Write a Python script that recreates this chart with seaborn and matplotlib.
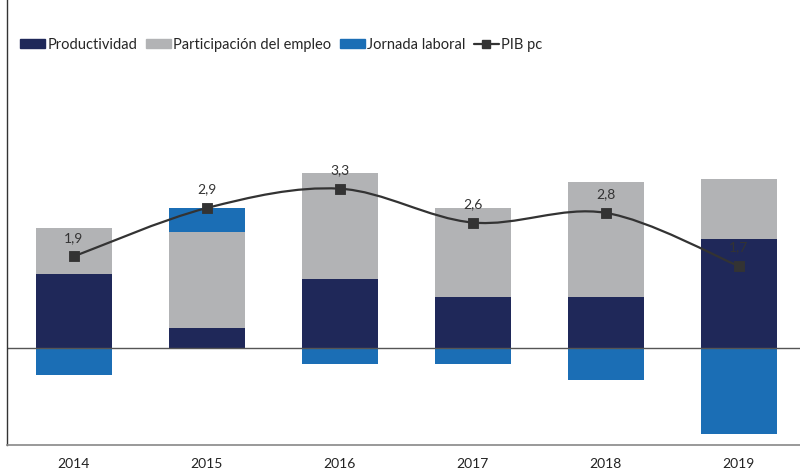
import numpy as np
import pandas as pd
import seaborn as sns
import matplotlib.pyplot as plt
from matplotlib.path import Path
from matplotlib.patches import PathPatch, Patch
from matplotlib.lines import Line2D

years = ["2014", "2015", "2016", "2017", "2018", "2019"]
productividad = [1.53, 0.43, 1.44, 1.07, 1.07, 2.25]
participacion = [0.95, 1.98, 2.19, 1.84, 2.36, 1.26]
jornada = [-0.56, 0.49, -0.33, -0.33, -0.66, -1.77]
pib_pc = [1.9, 2.9, 3.3, 2.6, 2.8, 1.7]
pib_labels = ["1,9", "2,9", "3,3", "2,6", "2,8", "1,7"]

c_prod = "#1F2859"
c_part = "#B2B3B5"
c_jorn = "#1B6EB5"
c_line = "#333333"

sns.set_style("white")
plt.rcParams['font.family'] = ['Lato', 'DejaVu Sans']

df = pd.DataFrame({"year": years, "prod": productividad, "part": participacion,
                   "jorn": jornada, "pib": pib_pc})
df["part_bottom"] = df["prod"]
df["jorn_bottom"] = np.where(df["jorn"] > 0, df["prod"] + df["part"], 0)

fig = plt.figure(figsize=(8, 4.73), dpi=100)
ax = fig.add_axes([0.009, 0.059, 0.991, 0.941])

w = 0.57
sns.barplot(data=df, x="year", y="prod", color=c_prod, width=w, saturation=1,
            linewidth=0, ax=ax)
ax.bar(range(len(years)), df["part"], bottom=df["part_bottom"], width=w, color=c_part, linewidth=0)
ax.bar(range(len(years)), df["jorn"], bottom=df["jorn_bottom"], width=w, color=c_jorn, linewidth=0)

# smoothed line (Catmull-Rom -> cubic Bezier, like spreadsheet smoothing)
x = np.arange(len(years), dtype=float)
y = np.array(pib_pc)
verts = [(x[0], y[0])]
codes = [Path.MOVETO]
for i in range(len(x) - 1):
    p0 = (x[max(i - 1, 0)], y[max(i - 1, 0)])
    p1 = (x[i], y[i])
    p2 = (x[i + 1], y[i + 1])
    p3 = (x[min(i + 2, len(x) - 1)], y[min(i + 2, len(x) - 1)])
    c1 = (p1[0] + (p2[0] - p0[0]) / 6, p1[1] + (p2[1] - p0[1]) / 6)
    c2 = (p2[0] - (p3[0] - p1[0]) / 6, p2[1] - (p3[1] - p1[1]) / 6)
    verts += [c1, c2, p2]
    codes += [Path.CURVE4] * 3
ax.add_patch(PathPatch(Path(verts, codes), fill=False, edgecolor=c_line, lw=1.6, zorder=4))
sns.scatterplot(x=x, y=y, marker="s", s=60, color=c_line, edgecolor=c_line, zorder=5, ax=ax)

for xi, yi, lab in zip(x, y, pib_labels):
    ax.annotate(lab, (xi, yi), xytext=(0, 9), textcoords="offset points", ha="center",
                va="bottom", fontsize=10, color="#333333", zorder=6)

ax.axhline(0, color="#555555", lw=1, zorder=1)
ax.set_xlim(-0.5, 5.46)
ax.set_ylim(-2, 7.2)
ax.set_yticks([])
ax.set_xlabel("")
ax.set_ylabel("")
ax.tick_params(axis="x", length=0, labelsize=10, colors="#222222", pad=9)
for s in ["top", "right"]:
    ax.spines[s].set_visible(False)
ax.spines["left"].set_color("#333333")
ax.spines["bottom"].set_color("#888888")
ax.spines["left"].set_linewidth(1)
ax.spines["bottom"].set_linewidth(1.2)

handles = [
    Patch(color=c_prod, label="Productividad"),
    Patch(color=c_part, label="Participación del empleo"),
    Patch(color=c_jorn, label="Jornada laboral"),
    Line2D([0], [0], color=c_line, lw=1.6, marker="s", markersize=6, label="PIB pc"),
]
ax.legend(handles=handles, loc="upper left", bbox_to_anchor=(0.0, 0.945), ncol=4, frameon=False,
          fontsize=10.5, handlelength=1.7, handleheight=0.55, handletextpad=0.15, columnspacing=0.6)

fig.savefig("out.png", dpi=100)
